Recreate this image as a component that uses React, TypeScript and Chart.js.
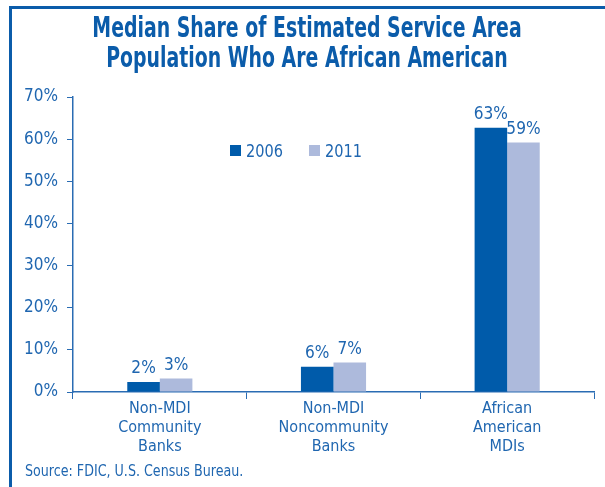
import React, { useEffect, useRef } from "react";
import { Chart, registerables } from "chart.js";

Chart.register(...registerables);

const categories: string[][] = [
  ["Non-MDI", "Community", "Banks"],
  ["Non-MDI", "Noncommunity", "Banks"],
  ["African", "American", "MDIs"],
];
const seriesNames = ["2006", "2011"];
const values2006 = [2.4, 6.0, 62.7];
const values2011 = [3.2, 7.0, 59.2];
const yTicks = [0, 10, 20, 30, 40, 50, 60, 70];
const titleLines = ["Median Share of Estimated Service Area", "Population Who Are African American"];
const sourceText = "Source: FDIC, U.S. Census Bureau.";

const DARK = "#005baa";
const LIGHT = "#adbadc";
const TEXT = "#1f66b0";
const AXIS = "#2a6cb3";
const TITLE = "#0b5caa";
const FONT = "'Liberation Sans Narrow', 'Arial Narrow', 'DejaVu Sans Condensed', sans-serif";

function drawScaled(ctx: any, text: string, x: number, y: number, sx: number, align: string) {
  ctx.save();
  ctx.translate(x, y);
  ctx.scale(sx, 1);
  ctx.textAlign = align;
  ctx.fillText(text, 0, 0);
  ctx.restore();
}

const overlayPlugin = {
  id: "overlay",
  afterDatasetsDraw(chart: any) {
    const ctx = chart.ctx;
    const area = chart.chartArea;
    ctx.save();
    // data labels
    ctx.fillStyle = TEXT;
    ctx.font = `18px ${FONT}`;
    ctx.textBaseline = "alphabetic";
    chart.data.datasets.forEach((ds: any, di: number) => {
      const meta = chart.getDatasetMeta(di);
      meta.data.forEach((bar: any, i: number) => {
        const v = ds.data[i] as number;
        drawScaled(ctx, `${Math.round(v)}%`, bar.x, bar.y - 9, 0.95, "center");
      });
    });
    // legend
    const colors = [DARK, LIGHT];
    const lx = [area.left + 157, area.left + 236];
    ctx.font = `17px ${FONT}`;
    seriesNames.forEach((name, i) => {
      ctx.fillStyle = colors[i];
      ctx.fillRect(lx[i], area.top + 48, 11, 11);
      ctx.fillStyle = TEXT;
      drawScaled(ctx, name, lx[i] + 16, area.top + 59.5, 0.95, "left");
    });
    ctx.restore();
  },
  afterDraw(chart: any) {
    const ctx = chart.ctx;
    ctx.save();
    ctx.fillStyle = TITLE;
    ctx.font = `bold 28px ${FONT}`;
    ctx.textBaseline = "alphabetic";
    drawScaled(ctx, titleLines[0], 307, 36.5, 0.75, "center");
    drawScaled(ctx, titleLines[1], 307, 67, 0.75, "center");
    ctx.fillStyle = TEXT;
    ctx.font = `15px ${FONT}`;
    drawScaled(ctx, sourceText, 25, 476, 0.94, "left");
    ctx.restore();
  },
};

export default function App() {
  const ref = useRef<HTMLCanvasElement>(null);
  useEffect(() => {
    if (!ref.current) return;
    const chart = new Chart(ref.current, {
      type: "bar",
      data: {
        labels: categories,
        datasets: [
          { label: seriesNames[0], data: values2006, backgroundColor: DARK, categoryPercentage: 0.375, barPercentage: 1 },
          { label: seriesNames[1], data: values2011, backgroundColor: LIGHT, categoryPercentage: 0.375, barPercentage: 1 },
        ],
      },
      options: {
        animation: false,
        responsive: false,
        maintainAspectRatio: false,
        layout: { padding: { top: 97, left: 0, right: 11, bottom: 0 } },
        plugins: {
          legend: { display: false },
          title: { display: false },
          tooltip: { enabled: false },
        },
        scales: {
          x: {
            grid: { offset: true, drawOnChartArea: false, drawTicks: true, tickLength: 7, color: AXIS, lineWidth: 1 },
            border: { display: true, color: AXIS, width: 1.5 },
            ticks: { color: TEXT, font: { family: FONT, size: 16, lineHeight: 1.2 }, padding: 0, maxRotation: 0, autoSkip: false },
            afterFit: (s: any) => { s.height = 95; },
          },
          y: {
            min: 0,
            max: 70,
            afterBuildTicks: (s: any) => { s.ticks = yTicks.map((v) => ({ value: v })); },
            grid: { drawOnChartArea: false, drawTicks: true, tickLength: 6, color: AXIS, lineWidth: 1 },
            border: { display: true, color: AXIS, width: 1.5 },
            ticks: { color: TEXT, font: { family: FONT, size: 17 }, padding: 9, callback: (v: any) => `${v}%` },
            afterFit: (s: any) => { s.width = 73; },
          },
        },
      },
      plugins: [overlayPlugin],
    });
    return () => chart.destroy();
  }, []);
  return (
    <div style={{ position: "fixed", left: 0, top: 0, width: 605, height: 487, background: "#fff" }}>
      <div style={{ position: "absolute", left: 9, top: 6, width: 700, height: 600, borderLeft: `3px solid ${TITLE}`, borderTop: `3px solid ${TITLE}` }} />
      <canvas ref={ref} width={605} height={487} style={{ position: "absolute", left: 0, top: 0 }} />
    </div>
  );
}
